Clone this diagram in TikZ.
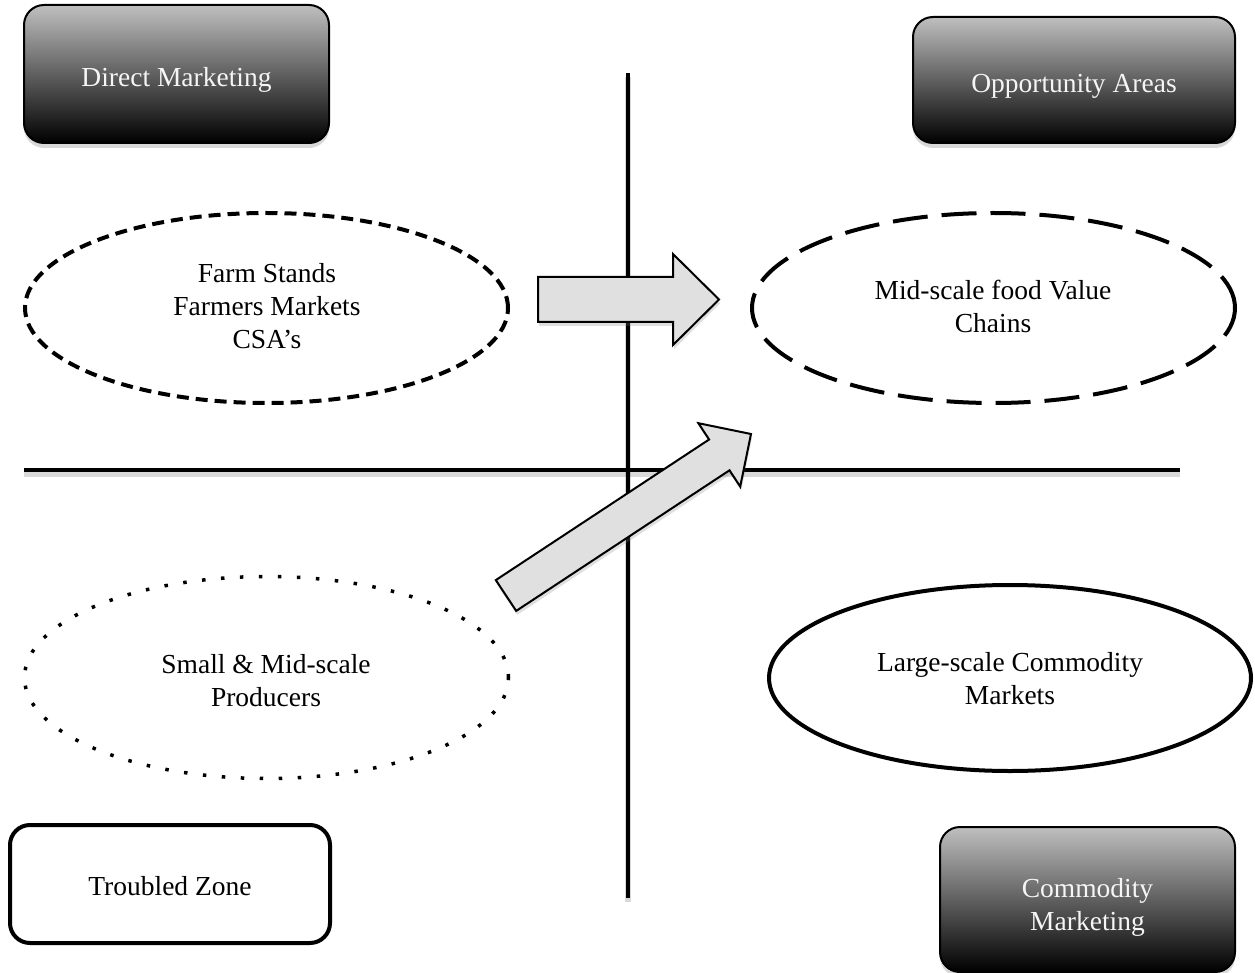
\documentclass[tikz,border=0pt]{standalone}
\usepackage{fontspec}
\setmainfont{Liberation Serif}
\usetikzlibrary{shadows,shapes.geometric}

\begin{document}
\begin{tikzpicture}[x=1pt,y=-1pt]
\tikzset{
  txt/.style={font=\fontsize{27.5}{33}\selectfont, align=center, inner sep=0pt},
  darkbox/.style={txt, rectangle, rounded corners=20pt, draw=black, line width=2pt,
    top color=black!25, bottom color=black, text=black!4,
    text height=26pt, text depth=0pt,
    drop shadow={opacity=0.3, shadow xshift=0pt, shadow yshift=-5pt}},
  lightbox/.style={txt, rectangle, rounded corners=20pt, draw=black, line width=4pt, fill=white,
    text height=22pt, text depth=0pt},
  axis/.style={line width=4.5pt, draw=black,
    preaction={draw=black, opacity=0.15, line width=6pt, transform canvas={yshift=-4pt}}},
  blockarrow/.style={draw=black, line width=2pt, fill=black!12, line join=miter,
    drop shadow={opacity=0.25, shadow xshift=1pt, shadow yshift=-4pt}},
  oval/.style={ellipse, draw=black, line width=4pt, inner sep=0pt},
  shortdash/.style={dash pattern=on 12pt off 7pt},
  longdash/.style={dash pattern=on 35pt off 14pt},
  dotline/.style={line width=3.5pt, dash pattern=on 3.5pt off 15.5pt},
}
\useasboundingbox (0,0) rectangle (1255,973);
\fill[white] (0,0) rectangle (1255,973);

% axes
\coordinate (vtop) at (628,73);
\coordinate (vbot) at (628,898);
\coordinate (hl) at (24,470);
\coordinate (hr) at (1180,470);
\draw[axis] (vtop) -- (vbot);
\draw[axis] (hl) -- (hr);

% corner boxes
\node[darkbox, minimum width=305pt, minimum height=138pt] (dm) at (176.5,74) {Direct Marketing};
\node[darkbox, minimum width=322pt, minimum height=126pt] (oa) at (1074,80) {Opportunity Areas};
\node[lightbox, minimum width=320pt, minimum height=118pt] (tz) at (170,884) {Troubled Zone};
\node[darkbox, text height=62pt, minimum width=295pt, minimum height=145pt] (cm) at (1087.5,899.5) {Commodity\\Marketing};

% ellipses
\node[oval, shortdash, minimum width=483pt, minimum height=190pt] (e1) at (266.5,308) {};
\node[oval, longdash, minimum width=483pt, minimum height=190pt] (e2) at (993.5,308) {};
\node[oval, dotline, minimum width=484pt, minimum height=202pt] (e3) at (266.5,677.5) {};
\node[oval, minimum width=482pt, minimum height=186pt] (e4) at (1010,678) {};

\node[txt] (t1) at (267,306) {Farm Stands\\Farmers Markets\\CSA’s};
\node[txt] (t2) at (993,306) {Mid-scale food Value\\Chains};
\node[txt] (t3) at (266,681) {Small \& Mid-scale\\Producers};
\node[txt] (t4) at (1010,678.5) {Large-scale Commodity\\Markets};

% block arrows
\draw[blockarrow] (538,277) -- (673,277) -- (673,254) -- (719,299.5) -- (673,345) -- (673,322) -- (538,322) -- cycle;
\draw[blockarrow] (495.8,580.1) -- (709.1,439.5) -- (698.4,423.2) -- (751,434) -- (740.2,486.6) -- (729.5,470.3) -- (516.2,610.9) -- cycle;
\end{tikzpicture}
\end{document}
